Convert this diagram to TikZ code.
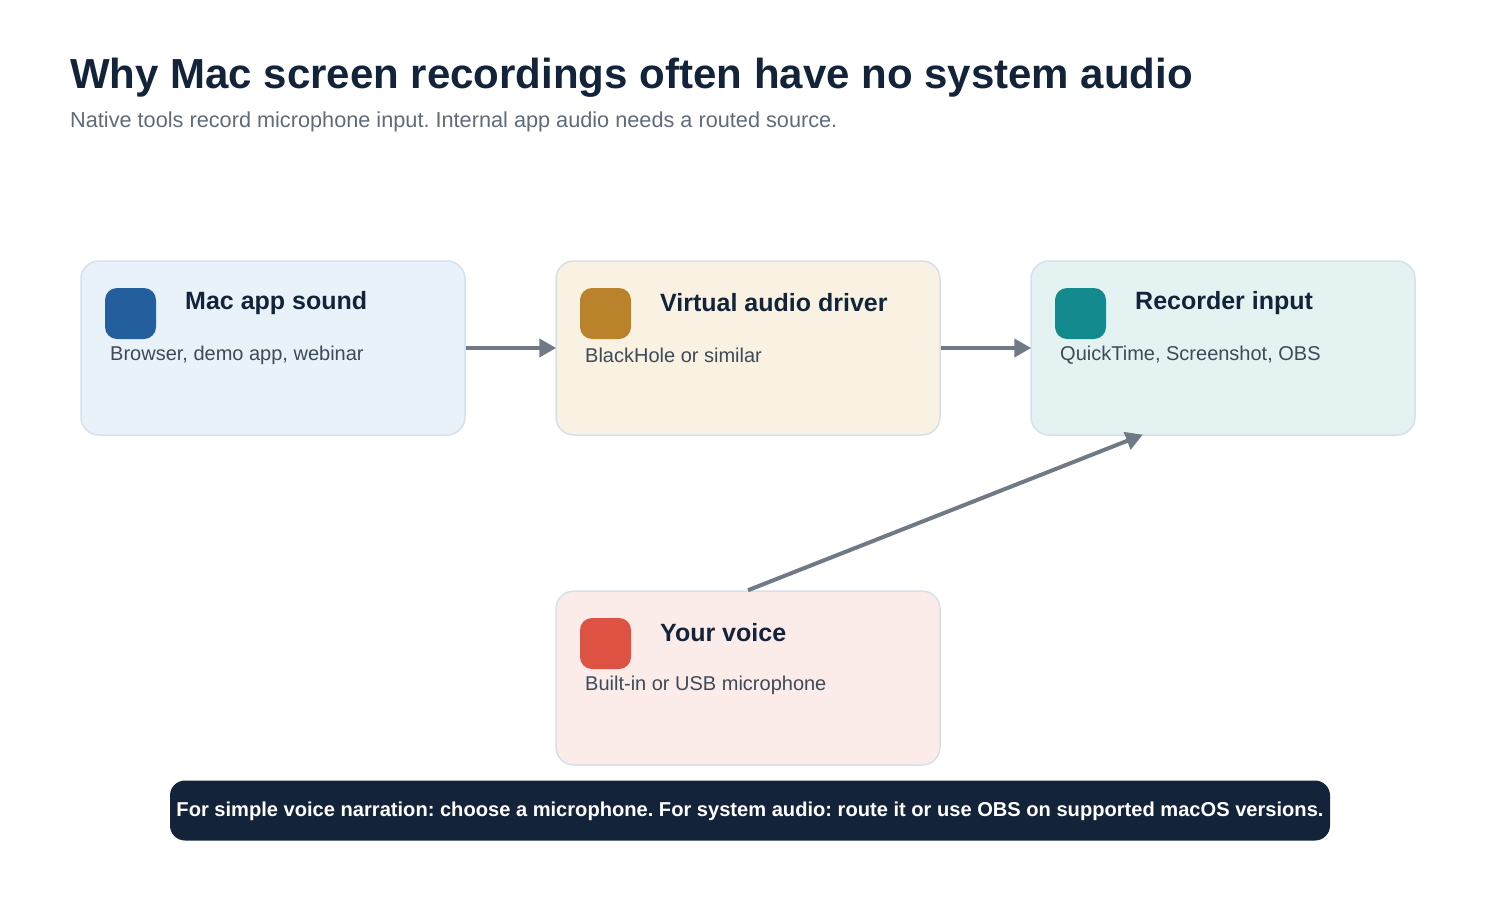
\documentclass[tikz,border=0pt]{standalone}
\usepackage{fontspec}
\setmainfont{Liberation Sans}
\usetikzlibrary{arrows.meta}
\definecolor{navy}{HTML}{13233A}
\definecolor{subgrey}{HTML}{5F6B78}
\definecolor{bodytxt}{HTML}{3D4A57}
\definecolor{edge}{HTML}{D5E0EA}
\definecolor{arr}{HTML}{6F7A86}
\definecolor{fa}{HTML}{E9F1F9}
\definecolor{fb}{HTML}{F9F2E2}
\definecolor{fc}{HTML}{E4F3F2}
\definecolor{fd}{HTML}{FBECE9}
\definecolor{ia}{HTML}{235F9C}
\definecolor{ib}{HTML}{B9822B}
\definecolor{ic}{HTML}{138A8D}
\definecolor{id}{HTML}{DD5242}
\tikzset{
  card/.style={draw=edge, line width=1.5pt, rounded corners=18pt, minimum width=384pt, minimum height=174pt, inner sep=0pt},
  icon/.style={rounded corners=12pt, minimum width=51pt, minimum height=51pt, inner sep=0pt},
  cardtitle/.style={anchor=west, inner sep=0pt, text=navy, font=\fontsize{25}{29}\selectfont\bfseries},
  cardbody/.style={anchor=west, inner sep=0pt, text=bodytxt, font=\fontsize{20}{24}\selectfont},
  flow/.style={draw=arr, line width=4pt, -{Triangle[length=17pt,width=18pt]}, shorten >=-1pt}
}
\frenchspacing
\begin{document}
\begin{tikzpicture}[x=1pt,y=-1pt]
\useasboundingbox (0,0) rectangle (1500,900);
\node[anchor=west, inner sep=0pt, text=navy, font=\fontsize{42}{50}\selectfont\bfseries] (title) at (70,78) {Why Mac screen recordings often have no system audio};
\node[anchor=west, inner sep=0pt, text=subgrey, font=\fontsize{21.7}{26}\selectfont] (sub) at (70,122) {Native tools record microphone input. Internal app audio needs a routed source.};

\node[card, fill=fa] (A) at (273,348) {};
\node[card, fill=fb] (B) at (748,348) {};
\node[card, fill=fc] (C) at (1223,348) {};
\node[card, fill=fd] (D) at (748,678) {};

\node[icon, fill=ia] (Ai) at (130.5,313.5) {};
\node[icon, fill=ib] (Bi) at (605.5,313.5) {};
\node[icon, fill=ic] (Ci) at (1080.5,313.5) {};
\node[icon, fill=id] (Di) at (605.5,643.5) {};

\node[cardtitle] (At) at (185,303) {Mac app sound};
\node[cardtitle] (Bt) at (660,303) {Virtual audio driver};
\node[cardtitle] (Ct) at (1135,303) {Recorder input};
\node[cardtitle] (Dt) at (660,633) {Your voice};

\node[cardbody] (Ab) at (110,355) {Browser, demo app, webinar};
\node[cardbody] (Bb) at (585,355) {BlackHole or similar};
\node[cardbody] (Cb) at (1060,355) {QuickTime, Screenshot, OBS};
\node[cardbody] (Db) at (585,685) {Built-in or USB microphone};

\coordinate (Cin) at (1142,435);
\draw[flow] (A.east) -- (B.west);
\draw[flow] (B.east) -- (C.west);
\draw[flow] (D.north) -- (Cin);

\node[fill=navy, rounded corners=15pt, minimum width=1160pt, minimum height=60pt, inner sep=0pt] (note) at (750,810.5) {};
\node[inner sep=0pt, text=white, font=\fontsize{20.1}{24}\selectfont\bfseries] (notetext) at (750,811.5) {For simple voice narration: choose a microphone. For system audio: route it or use OBS on supported macOS versions.};
\end{tikzpicture}
\end{document}
